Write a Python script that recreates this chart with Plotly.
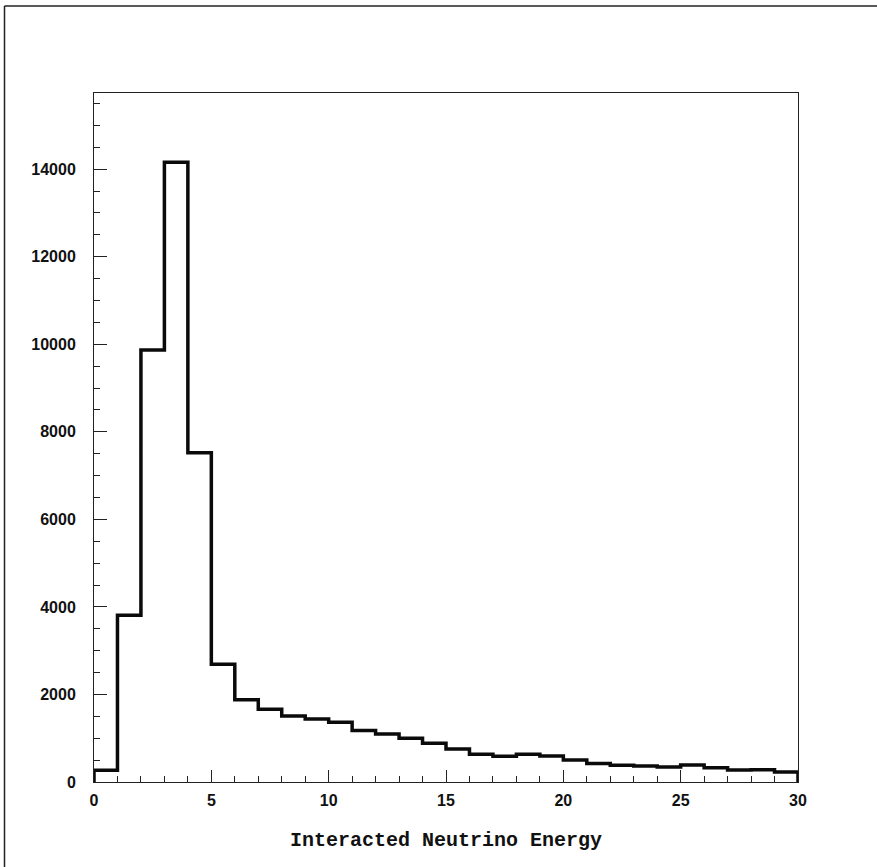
import plotly.graph_objects as go

# Histogram of interacted neutrino energy, 1-unit bins from 0 to 30
bin_edges = list(range(0, 31))
counts = [270, 3810, 9870, 14160, 7520, 2690, 1880, 1660, 1510, 1440,
          1365, 1175, 1095, 1000, 885, 755, 632, 587, 632, 594,
          503, 420, 381, 366, 343, 389, 328, 274, 282, 229]

x_title = "Interacted Neutrino Energy"
y_tickvals = [0, 2000, 4000, 6000, 8000, 10000, 12000, 14000]
y_ticktext = ["0", "2000", "4000", "6000", "8000", "10000", "12000", "14000"]
x_tickvals = [0, 5, 10, 15, 20, 25, 30]
x_ticktext = ["0", "5", "10", "15", "20", "25", "30"]

# step outline: rise at 0, flat tops, drop at 30
xs = [bin_edges[0]] + bin_edges[:-1] + [bin_edges[-1], bin_edges[-1]]
ys = [0] + counts + [counts[-1], 0]

fig = go.Figure()
fig.add_trace(go.Scatter(
    x=xs, y=ys, mode="lines", line_shape="hv",
    line=dict(color="#0a0a0a", width=3.5), hoverinfo="skip", showlegend=False,
))

W, H = 877, 867
ml, mr, mt, mb = 94, 79, 93, 85
pw, ph = W - ml - mr, H - mt - mb

def px_to_paper_x(px):
    return (px - ml) / pw

def px_to_paper_y(py):
    return (H - mb - py) / ph

tick_font = dict(family="Liberation Sans, Arial, sans-serif", size=16, color="#111", weight="bold")

fig.update_layout(
    width=W, height=H,
    margin=dict(l=ml, r=mr, t=mt, b=mb, pad=0),
    paper_bgcolor="white", plot_bgcolor="white",
    xaxis=dict(
        range=[0, 30], tickvals=x_tickvals, ticktext=x_ticktext, ticks="inside", ticklen=12, tickwidth=1,
        tickcolor="#222", showline=True, linecolor="#222", linewidth=1, mirror=True,
        showgrid=False, zeroline=False, tickfont=tick_font,
        minor=dict(dtick=1, ticks="inside", ticklen=6, tickwidth=1, tickcolor="#222", showgrid=False),
        ticklabelstandoff=4,
    ),
    yaxis=dict(
        range=[0, 15740], tickvals=y_tickvals, ticktext=y_ticktext, ticks="inside", ticklen=13, tickwidth=1,
        tickcolor="#222", showline=True, linecolor="#222", linewidth=1, mirror=True,
        showgrid=False, zeroline=False, tickfont=tick_font,
        minor=dict(dtick=500, ticks="inside", ticklen=6, tickwidth=1, tickcolor="#222", showgrid=False),
        ticklabelstandoff=14,
    ),
    annotations=[dict(
        text="<b>" + x_title + "</b>", xref="paper", yref="paper",
        x=0.5, y=px_to_paper_y(840), xanchor="center", yanchor="middle", showarrow=False,
        font=dict(family="Courier New, Liberation Mono, monospace", size=20, color="#111"),
    )],
    shapes=[
        # outer page frame (left and top edges visible)
        dict(type="line", xref="paper", yref="paper",
             x0=px_to_paper_x(4.5), x1=px_to_paper_x(4.5),
             y0=px_to_paper_y(6), y1=px_to_paper_y(867),
             line=dict(color="#222", width=1.5)),
        dict(type="line", xref="paper", yref="paper",
             x0=px_to_paper_x(4.5), x1=px_to_paper_x(877),
             y0=px_to_paper_y(6), y1=px_to_paper_y(6),
             line=dict(color="#222", width=1.5)),
    ],
)

fig.write_html("out.html")
